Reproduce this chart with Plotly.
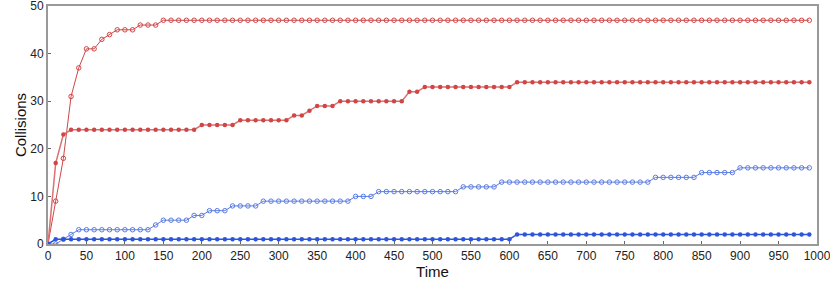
import plotly.graph_objects as go

time = list(range(0, 1000, 10))

# Red, open markers
red_open_head = [0, 9, 18, 31, 37, 41, 41, 43, 44, 45, 45, 45, 46, 46, 46]
red_open = red_open_head + [47] * (len(time) - len(red_open_head))

# Red, filled markers
red_filled = ([0, 17, 23] + [24] * 17 + [25] * 5 + [26] * 7 + [27] * 2 + [28]
              + [29] * 3 + [30] * 9 + [32] * 2 + [33] * 12)
red_filled = red_filled + [34] * (len(time) - len(red_filled))

# Blue, open markers
blue_open = ([0, 0, 1, 2] + [3] * 10 + [4] + [5] * 4 + [6] * 2 + [7] * 3 + [8] * 4
             + [9] * 12 + [10] * 3 + [11] * 11 + [12] * 5 + [13] * 20 + [14] * 6
             + [15] * 5)
blue_open = blue_open + [16] * (len(time) - len(blue_open))

# Blue, filled markers
blue_filled = [0] + [1] * 60
blue_filled = blue_filled + [2] * (len(time) - len(blue_filled))

RED = "#cf4646"
BLUE = "#2d55dc"
BLUE_LIGHT = "#5a7be3"

fig = go.Figure()
fig.add_trace(go.Scatter(x=time, y=red_open, mode="lines+markers",
                         line=dict(color=RED, width=1),
                         marker=dict(symbol="circle-open", size=4.5, color=RED, line=dict(width=1))))
fig.add_trace(go.Scatter(x=time, y=red_filled, mode="lines+markers",
                         line=dict(color="#dd7070", width=1.5),
                         marker=dict(symbol="circle", size=4.5, color=RED)))
fig.add_trace(go.Scatter(x=time, y=blue_open, mode="lines+markers",
                         line=dict(color=BLUE_LIGHT, width=1),
                         marker=dict(symbol="circle-open", size=4.5, color=BLUE_LIGHT, line=dict(width=1))))
fig.add_trace(go.Scatter(x=time, y=blue_filled, mode="lines+markers",
                         line=dict(color=BLUE, width=1.5),
                         marker=dict(symbol="circle", size=4.5, color=BLUE)))

axis_common = dict(showgrid=False, zeroline=False, showline=True, linecolor="#999999",
                   linewidth=2, mirror=True, ticks="inside", ticklen=3, tickcolor="#666666",
                   automargin=False, ticklabeloverflow="allow",
                   tickfont=dict(family="Liberation Sans, Arial", size=12, color="#222222"))

fig.update_layout(
    width=830, height=293,
    margin=dict(l=48, r=13, t=6, b=49),
    plot_bgcolor="white", paper_bgcolor="white",
    showlegend=False,
    xaxis=dict(range=[0, 1000], dtick=50, tick0=0,
               title=dict(text="Time", font=dict(family="Liberation Sans, Arial", size=15, color="#111111"),
                          standoff=4),
               **axis_common),
    yaxis=dict(range=[0, 50], dtick=10, tick0=0,
               title=dict(text="Collisions", font=dict(family="Liberation Sans, Arial", size=15, color="#111111"),
                          standoff=0),
               **axis_common),
)

fig.write_html("out.html", config={"displayModeBar": False},
               post_script="document.body.style.margin='0';document.body.style.overflow='hidden';")
